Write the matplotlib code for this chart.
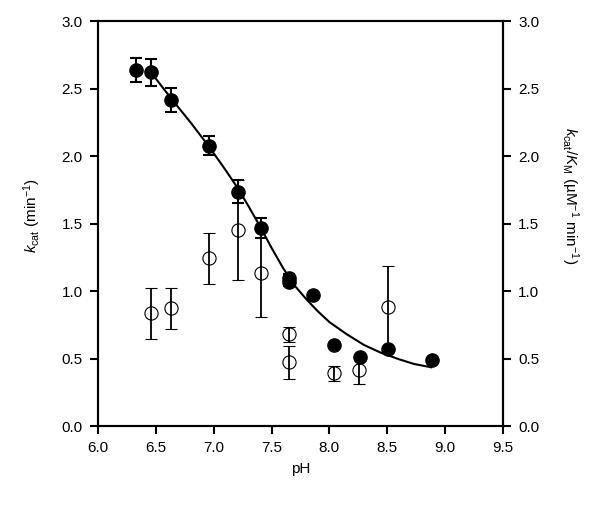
import matplotlib
matplotlib.use("Agg")
import matplotlib.pyplot as plt

plt.rcParams["font.family"] = ["Liberation Sans", "DejaVu Sans"]
plt.rcParams["mathtext.fontset"] = "custom"
plt.rcParams["mathtext.rm"] = "Liberation Sans"
plt.rcParams["mathtext.it"] = "Liberation Sans:italic"

# kcat (filled circles, left axis)
ph_kcat = [6.33, 6.457, 6.63, 6.96, 7.21, 7.405, 7.65, 7.65, 7.86, 8.04, 8.26, 8.51, 8.89]
kcat = [2.64, 2.62, 2.415, 2.076, 1.736, 1.469, 1.10, 1.069, 0.968, 0.60, 0.509, 0.568, 0.489]
kcat_err = [0.09, 0.10, 0.09, 0.07, 0.085, 0.075, 0.03, 0.03, 0.0, 0.0, 0.0, 0.0, 0.0]

# kcat/KM (open circles, right axis)
ph_eff = [6.457, 6.63, 6.96, 7.21, 7.405, 7.65, 7.65, 8.04, 8.255, 8.505]
eff = [0.835, 0.872, 1.242, 1.452, 1.136, 0.681, 0.472, 0.39, 0.415, 0.879]
eff_err = [0.19, 0.15, 0.19, 0.37, 0.33, 0.055, 0.12, 0.055, 0.10, 0.31]

# fitted curve
ph_fit = [6.45, 6.63, 6.80, 6.96, 7.10, 7.21, 7.30, 7.40, 7.50, 7.60, 7.70,
          7.80, 7.90, 8.00, 8.15, 8.30, 8.44, 8.60, 8.73, 8.88]
kcat_fit = [2.63, 2.43, 2.25, 2.07, 1.90, 1.76, 1.63, 1.48, 1.32, 1.17, 1.04,
            0.94, 0.85, 0.77, 0.68, 0.60, 0.545, 0.495, 0.46, 0.435]

ticks_x = [6.0, 6.5, 7.0, 7.5, 8.0, 8.5, 9.0, 9.5]
ticks_y = [0.0, 0.5, 1.0, 1.5, 2.0, 2.5, 3.0]

fig = plt.figure(figsize=(6.01, 5.05), dpi=100)
ax = fig.add_axes([0.163, 0.1564, 0.674, 0.8016])
ax2 = ax.twinx()

ax.plot(ph_fit, kcat_fit, color="black", lw=1.5, zorder=2)
ax.errorbar(ph_kcat, kcat, yerr=kcat_err, fmt="o", color="black",
            ms=9.5, capsize=4.5, elinewidth=1.5, capthick=1.5, zorder=4)
ax2.errorbar(ph_eff, eff, yerr=eff_err, fmt="o", mfc="none", mec="black",
             mew=0.8, color="black", ms=9.5, capsize=4.5, elinewidth=1.3,
             capthick=1.5, zorder=3)

for a in (ax, ax2):
    a.set_xlim(6.0, 9.5)
    a.set_ylim(0.0, 3.0)
    a.set_yticks(ticks_y)
    a.set_yticklabels([f"{t:.1f}" for t in ticks_y])
    for s in a.spines.values():
        s.set_linewidth(1.5)
    a.tick_params(direction="out", length=6, width=1.5, labelsize=11, pad=5)

ax.set_xticks(ticks_x)
ax.set_xticklabels([f"{t:.1f}" for t in ticks_x])
ax.set_xlabel("pH", fontsize=11)
ax.xaxis.set_label_coords(0.5, -0.09)
ax.set_ylabel(r"$\mathit{k}_{\mathrm{cat}}$ (min$^{-1}$)", fontsize=11)
ax.yaxis.set_label_coords(-0.135, 0.52)
ax2.set_ylabel(r"$\mathit{k}_{\mathrm{cat}}$/$\mathit{K}_{\mathrm{M}}$ (µM$^{-1}$ min$^{-1}$)",
               fontsize=11, rotation=270, va="center")
ax2.yaxis.set_label_coords(1.165, 0.57)

fig.savefig("out.png", dpi=100)
